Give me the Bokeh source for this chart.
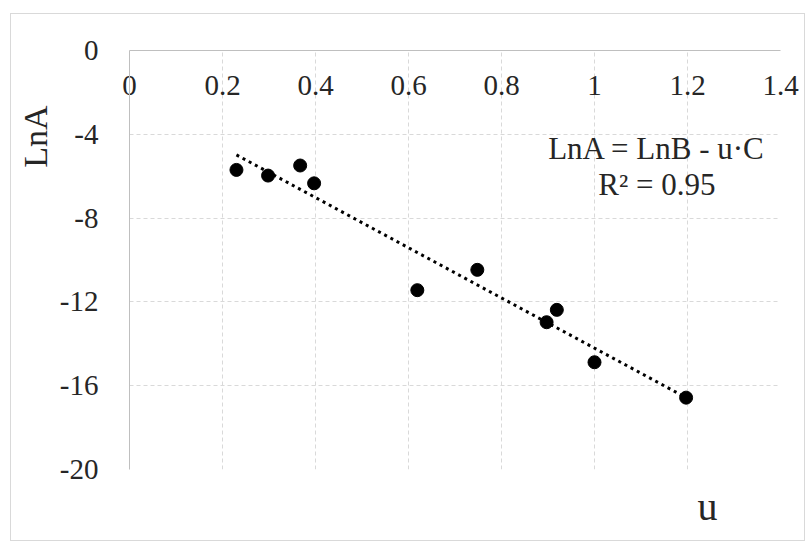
import numpy as np
from bokeh.plotting import figure
from bokeh.models import Label, Title, FixedTicker, Range1d
from bokeh.embed import file_html
from bokeh.resources import INLINE

# data
u_vals = [0.23, 0.298, 0.367, 0.397, 0.619, 0.748, 0.897, 0.919, 1.0, 1.197]
lnA_vals = [-5.70, -5.97, -5.49, -6.34, -11.44, -10.47, -12.97, -12.38, -14.88, -16.57]
x_ticks = [0, 0.2, 0.4, 0.6, 0.8, 1.0, 1.2, 1.4]
x_tick_labels = ["0", "0.2", "0.4", "0.6", "0.8", "1", "1.2", "1.4"]
y_ticks = [0, -4, -8, -12, -16, -20]
y_tick_labels = ["0", "-4", "-8", "-12", "-16", "-20"]
equation_text = "LnA = LnB - u\u00b7C"
r2_text = "R\u00b2 = 0.95"

FONT = "Liberation Serif"
GRID = "#d9d9d9"
TXT = "#262626"

p = figure(width=795, height=528, output_backend="svg", toolbar_location=None,
           x_range=Range1d(0, 1.4), y_range=Range1d(-20, 0),
           x_axis_location="above",
           min_border_left=117, min_border_right=26, min_border_top=36, min_border_bottom=73)
p.margin = (13, 0, 0, 10)
p.styles = {"border": "1px solid #d9d9d9"}
p.background_fill_color = "white"
p.border_fill_color = "white"
p.outline_line_color = None

# grid
p.xgrid.ticker = FixedTicker(ticks=x_ticks)
p.ygrid.ticker = FixedTicker(ticks=y_ticks)
for g in (p.xgrid, p.ygrid):
    g.grid_line_color = GRID
    g.grid_line_dash = "4 3"
    g.grid_line_width = 1

# x axis at top, labels pushed down inside the plot area
xa = p.xaxis[0]
xa.ticker = FixedTicker(ticks=x_ticks)
xa.major_label_overrides = {float(t): s for t, s in zip(x_ticks, x_tick_labels)}
xa.axis_line_color = "#bfbfbf"
xa.major_tick_line_color = None
xa.minor_tick_line_color = None
xa.major_label_text_font = FONT
xa.major_label_text_font_size = "29px"
xa.major_label_text_color = TXT
xa.major_label_standoff = -50

ya = p.yaxis[0]
ya.ticker = FixedTicker(ticks=y_ticks)
ya.major_label_overrides = {float(t): s for t, s in zip(y_ticks, y_tick_labels)}
ya.axis_line_color = "#bfbfbf"
ya.major_tick_line_color = None
ya.minor_tick_line_color = None
ya.major_label_text_font = FONT
ya.major_label_text_font_size = "29px"
ya.major_label_text_color = TXT
ya.major_label_standoff = 25

# trend line (least squares fit)
slope, intercept = np.polyfit(u_vals, lnA_vals, 1)
xs = [min(u_vals), max(u_vals)]
ys = [intercept + slope * x for x in xs]
p.line(xs, ys, line_color="black", line_width=3, line_dash="3 4")

# points
p.scatter(u_vals, lnA_vals, size=13, fill_color="black", line_color="black")

# equation
p.add_layout(Label(x=1.134, y=-4.7, text=equation_text, text_font=FONT,
                   text_font_size="31px", text_color=TXT,
                   text_align="center", text_baseline="middle"))
p.add_layout(Label(x=1.134, y=-6.38, text=r2_text, text_font=FONT,
                   text_font_size="31px", text_color=TXT,
                   text_align="center", text_baseline="middle"))
# axis titles
p.add_layout(Title(text="u", align="right", offset=63, text_font=FONT,
                   text_font_size="40px", text_color=TXT, text_font_style="normal",
                   standoff=24), "below")
p.add_layout(Title(text="LnA", align="right", offset=55, text_font=FONT,
                   text_font_size="34px", text_color=TXT, text_font_style="normal",
                   standoff=6), "left")

open("out.html", "w").write(file_html(p, INLINE))
